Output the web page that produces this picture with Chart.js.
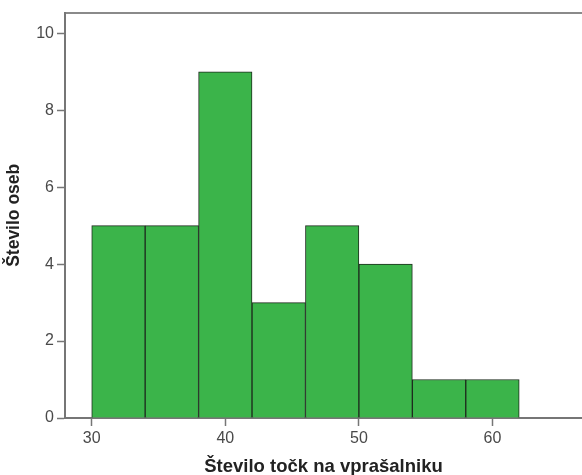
<!DOCTYPE html>
<html>
<head>
<meta charset="utf-8">
<script src="https://cdn.jsdelivr.net/npm/chart.js@4/dist/chart.umd.min.js"></script>
<style>
  html, body { margin: 0; padding: 0; background: #fff; }
  #wrap { width: 582px; height: 475px; }
</style>
</head>
<body>
<div id="wrap"><canvas id="hist"></canvas></div>
<script>
// histogram bins (lower edge) and counts
const binStarts = [30, 34, 38, 42, 46, 50, 54, 58];
const binWidth = 4;
const counts = [5, 5, 9, 3, 5, 4, 1, 1];

const xTicks = [30, 40, 50, 60];
const yTicks = [0, 2, 4, 6, 8, 10];

const xTitle = 'Število točk na vprašalniku';
const yTitle = 'Število oseb';

const points = binStarts.map((s, i) => ({ x: s + binWidth / 2, y: counts[i] }));

const axisColor = '#767676';
const tickFont = { family: 'Liberation Sans, Arial, sans-serif', size: 16 };
const xTitleFont = { family: 'Liberation Sans, Arial, sans-serif', size: 18.5, weight: 'bold' };
const yTitleFont = { family: 'Liberation Sans, Arial, sans-serif', size: 17.5, weight: 'bold' };

new Chart(document.getElementById('hist'), {
    type: 'bar',
    data: {
        datasets: [{
            data: points,
            backgroundColor: '#3bb44a',
            borderColor: '#1e2b1e',
            borderWidth: 1,
            barPercentage: 1,
            categoryPercentage: 1
        }]
    },
    options: {
        responsive: true,
        maintainAspectRatio: false,
        animation: false,
        layout: { padding: 0 },
        plugins: { legend: { display: false }, tooltip: { enabled: false } },
        scales: {
            x: {
                type: 'linear',
                offset: false,
                min: 28,
                max: 66.7,
                afterBuildTicks: s => { s.ticks = xTicks.map(v => ({ value: v })) },
                afterFit: s => { s.height = 57 },
                ticks: { color: '#4a4a4a', font: tickFont, padding: 3, maxRotation: 0 },
                grid: { offset: false, drawOnChartArea: false, tickLength: 8, tickColor: axisColor, tickWidth: 1.5 },
                border: { color: axisColor, width: 2 },
                title: { display: true, text: xTitle, color: '#222', font: xTitleFont, padding: { top: 0, bottom: -3 } }
            },
            x2: {
                type: 'linear',
                position: 'top',
                offset: false,
                min: 0,
                max: 1,
                afterFit: s => { s.height = 11.5 },
                ticks: { display: false },
                grid: { drawOnChartArea: false, drawTicks: false },
                border: { color: '#8a8a8a', width: 2 }
            },
            y: {
                min: 0,
                max: 10.54,
                afterBuildTicks: s => { s.ticks = yTicks.map(v => ({ value: v })) },
                afterFit: s => { s.width = 65 },
                ticks: { color: '#4a4a4a', font: tickFont, padding: 3 },
                grid: { drawOnChartArea: false, tickLength: 8, tickColor: axisColor, tickWidth: 1.5 },
                border: { color: axisColor, width: 2 },
                title: { display: true, text: yTitle, color: '#222', font: yTitleFont, padding: { top: 4, bottom: 0 } }
            }
        }
    }
});
</script>
</body>
</html>
